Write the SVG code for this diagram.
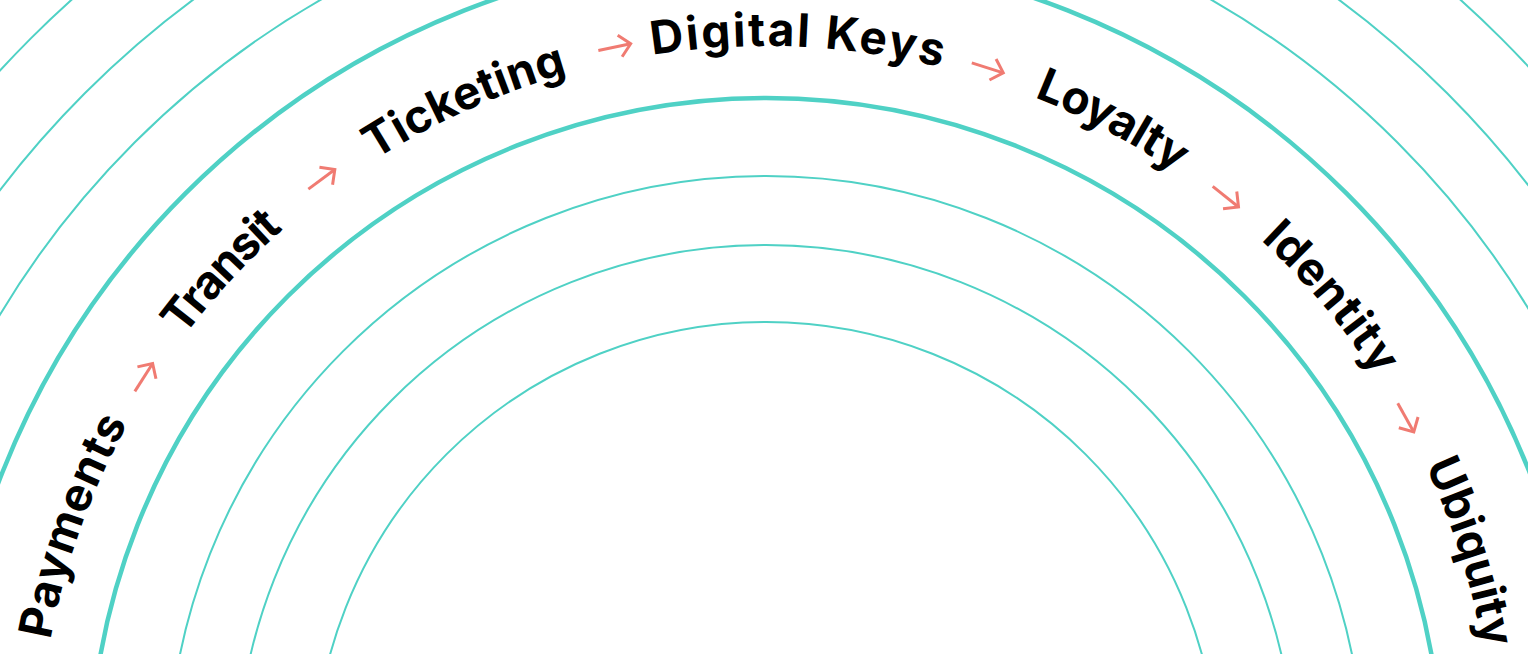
<svg xmlns="http://www.w3.org/2000/svg" xmlns:xlink="http://www.w3.org/1999/xlink" width="1528" height="654" viewBox="0 0 1528 654">
  <style>
    .ring { fill: none; stroke: #4fd1c5; stroke-width: 2; }
    .ring-bold { fill: none; stroke: #4fd1c5; stroke-width: 4.5; }
    .label { font-family: Inter, "Noto Sans", "DejaVu Sans", sans-serif; font-weight: 700; font-size: 46px; fill: #000000; }
    .arrow { fill: none; stroke: #f07b72; stroke-width: 3; stroke-linecap: butt; stroke-linejoin: miter; }
  </style>
  <defs>
    <path id="track" d="M 38 774 A 728 728 0 0 1 1494 774"/>
    <g id="arr">
      <line class="arrow" x1="-17" y1="0" x2="16" y2="0"/>
      <path class="arrow" d="M 5 -11 L 16 0 L 5 11"/>
    </g>
  </defs>
  <rect width="1528" height="654" fill="#ffffff"/>
  <g id="rings">
    <circle class="ring" cx="766" cy="774" r="452"/>
    <circle class="ring" cx="766" cy="774" r="529"/>
    <circle class="ring" cx="766" cy="774" r="598"/>
    <circle class="ring-bold" cx="766" cy="774" r="676"/>
    <circle class="ring-bold" cx="766" cy="774" r="821"/>
    <circle class="ring" cx="766" cy="774" r="893"/>
    <circle class="ring" cx="766" cy="774" r="963"/>
    <circle class="ring" cx="766" cy="774" r="1040"/>
  </g>
  <g id="node-payments"><text class="label"><textPath xlink:href="#track" href="#track" startOffset="134.7" textLength="231" lengthAdjust="spacing">Payments</textPath></text></g>
  <g id="node-transit"><text class="label"><textPath xlink:href="#track" href="#track" startOffset="468.9" textLength="147" lengthAdjust="spacing">Transit</textPath></text></g>
  <g id="node-ticketing"><text class="label"><textPath xlink:href="#track" href="#track" startOffset="730.6" textLength="212" lengthAdjust="spacing">Ticketing</textPath></text></g>
  <g id="node-digital-keys"><text class="label"><textPath xlink:href="#track" href="#track" startOffset="1029.2" textLength="291" lengthAdjust="spacing">Digital Keys</textPath></text></g>
  <g id="node-loyalty"><text class="label"><textPath xlink:href="#track" href="#track" startOffset="1418" textLength="161" lengthAdjust="spacing">Loyalty</textPath></text></g>
  <g id="node-identity"><text class="label"><textPath xlink:href="#track" href="#track" startOffset="1687.4" textLength="179" lengthAdjust="spacing">Identity</textPath></text></g>
  <g id="node-ubiquity"><text class="label"><textPath xlink:href="#track" href="#track" startOffset="1968.2" textLength="192" lengthAdjust="spacing">Ubiquity</textPath></text></g>
  <g id="connectors">
    <use href="#arr" xlink:href="#arr" transform="translate(144 377) rotate(-57.4)"/>
    <use href="#arr" xlink:href="#arr" transform="translate(322 179) rotate(-36.7)"/>
    <use href="#arr" xlink:href="#arr" transform="translate(615 47) rotate(-11.7)"/>
    <use href="#arr" xlink:href="#arr" transform="translate(988 68) rotate(17.5)"/>
    <use href="#arr" xlink:href="#arr" transform="translate(1226 197) rotate(38.6)"/>
    <use href="#arr" xlink:href="#arr" transform="translate(1406 418) rotate(60.9)"/>
  </g>
</svg>
